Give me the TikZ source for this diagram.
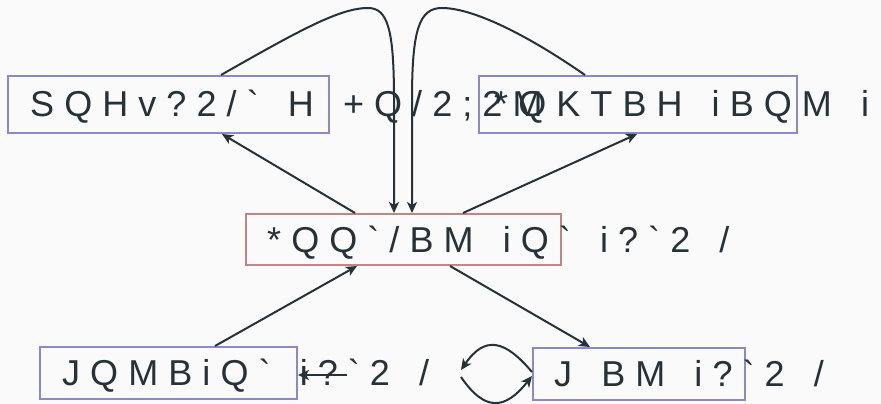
\documentclass[tikz,border=0pt]{standalone}
\usepackage{fontspec}
\setmainfont{Liberation Sans}
\newfontfamily\labelfont[LetterSpace=28,WordSpace=1.45,Ligatures=TeXOff]{Liberation Sans}
\usetikzlibrary{arrows.meta,calc}

\definecolor{bgcol}{HTML}{FAFAFA}
\definecolor{inkcol}{HTML}{263238}
\definecolor{boxblue}{HTML}{8C89C8}
\definecolor{boxred}{HTML}{C48484}

\tikzset{
  statebox/.style={draw=boxblue,line width=2pt,fill=bgcol,inner sep=0pt},
  label/.style={anchor=base west,inner sep=0pt,text=inkcol,
    font=\labelfont\fontsize{36}{42}\selectfont},
  link/.style={draw=inkcol,line width=2pt,-{Stealth[length=11pt,width=10pt,inset=3pt]}}
}

\begin{document}
\begin{tikzpicture}[x=1pt,y=-1pt]
\fill[bgcol] (0,0) rectangle (881,404);
\useasboundingbox (0,0) rectangle (881,404);

% boxes
\node[statebox,minimum width=321pt,minimum height=57pt] (tl) at (168.5,104.5) {};
\node[statebox,minimum width=318pt,minimum height=57pt] (tr) at (638,104.5) {};
\node[statebox,draw=boxred,minimum width=315pt,minimum height=51pt] (ctr) at (403.5,239.5) {};
\node[statebox,minimum width=257pt,minimum height=52pt] (bl) at (168.5,373) {};
\node[statebox,minimum width=212pt,minimum height=52pt] (br) at (639,374) {};

% texts
\node[label] (tltext) at (30,117) {SQHv?2/` H +Q/2;2M};
\node[label] (trtext) at (494,117) {*QKTBH iBQM i};
\node[label] (ctrtext) at (267,252) {*QQ`/BM iQ` i?`2 /};
\node[label] (bltext) at (62,385.5) {JQMBiQ` i?`2 /};
\node[label] (brtext) at (554,386) {J BM i?`2 /};

% free ends
\coordinate (blin) at (347,375);
\coordinate (lp) at (461,373);

% connectors
\draw[link] ($(ctr.north)+(-48.5,0)$) -- ($(tl.south)+(53.5,0)$);
\draw[link] ($(ctr.north)+(59.5,0)$) -- ($(tr.south)+(-1,0)$);
\draw[link] ($(tl.north)+(52.5,0)$) .. controls (300,30) and (340,8) .. (368,8)
  .. controls (388,8) and (394,30) .. (394,100) -- ($(ctr.north)+(-9.5,0)$);
\draw[link] ($(tr.north)+(-53,0)$) .. controls (520,30) and (470,8) .. (442,8)
  .. controls (419,8) and (412,30) .. (412,100) -- ($(ctr.north)+(8.5,0)$);
\draw[link] ($(bl.north)+(46.5,0)$) -- ($(ctr.south)+(-46.5,0)$);
\draw[link] ($(ctr.south)+(46.5,0)$) -- ($(br.north)+(-49,0)$);
\draw[link] (blin) -- ($(bl.east)+(0,2)$);
\draw[link] ($(br.west)+(0,-2)$) .. controls (505,340) and (485,335) .. ($(lp)+(0,-3)$);
\draw[link] ($(lp)+(0,4)$) .. controls (485,412) and (505,410) .. ($(br.west)+(0,2)$);
\end{tikzpicture}
\end{document}
